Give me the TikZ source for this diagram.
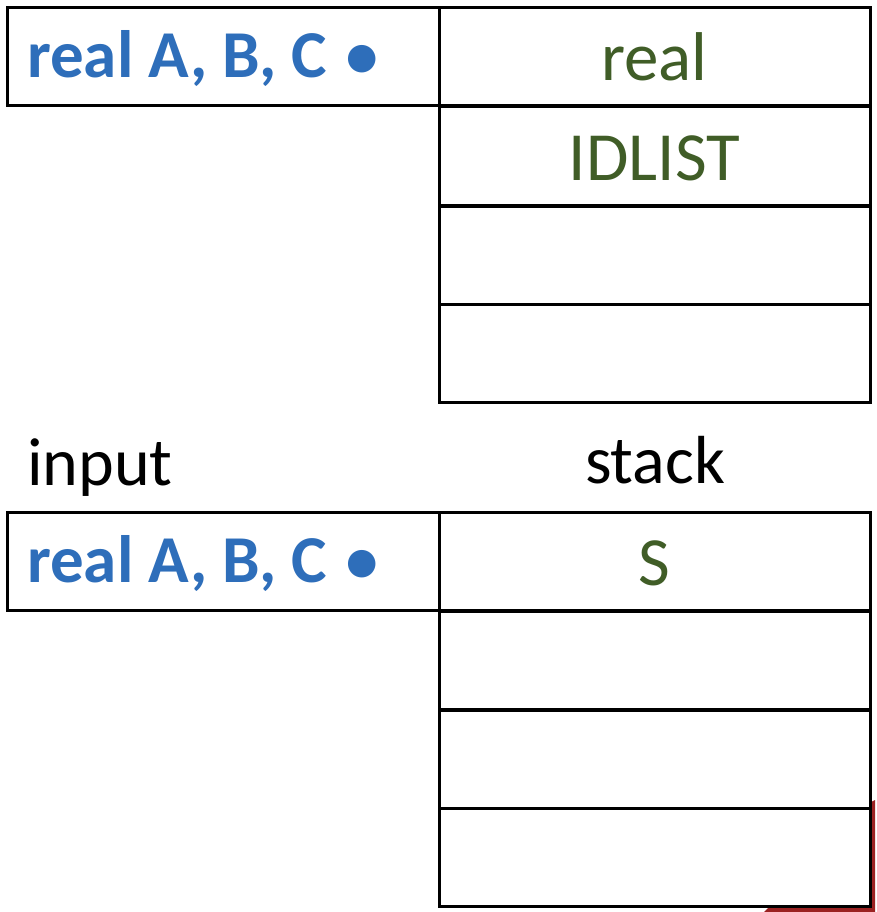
\documentclass[tikz,border=0pt]{standalone}
\usepackage{fontspec}
\setmainfont{Carlito}
\newfontfamily\symfont{DejaVu Sans}
\usepackage{tikz}

\definecolor{inblue}{HTML}{2E6EBA}
\definecolor{stgreen}{HTML}{405D27}
\definecolor{edgered}{HTML}{9B2222}

\newcommand{\inbullet}{\hspace{4pt}\raisebox{9pt}{\symfont\fontsize{36}{36}\selectfont ●}}

\tikzset{
    cell/.style={draw, line width=3pt, minimum height=98pt, inner sep=0pt},
    incell/.style={cell, minimum width=432pt},
    stcell/.style={cell, minimum width=431pt, text=stgreen, text height=52pt, text depth=4pt,
        font=\fontsize{69}{69}\selectfont},
    intext/.style={anchor=base west, inner sep=0pt, text=inblue, font=\fontsize{67}{67}\selectfont\bfseries},
    caption/.style={inner sep=0pt, font=\fontsize{68}{68}\selectfont}
}

\begin{document}
\begin{tikzpicture}[x=1pt, y=1pt]
    \useasboundingbox (0,0) rectangle (876,-912);

    % shadow edge at the lower right
    \fill[edgered] (768,-908) -- (871,-908) -- (871,-802) -- (875,-800) -- (875,-912) -- (764,-912) -- cycle;

    % upper configuration
    \node [incell] (in1) at (223,-57) {};
    \node [intext] (inA) at (27,-78) {real A, B, C \inbullet};

    \node [stcell] (s1) at (654.5,-57) {real};
    \node [stcell] (s2) at (654.5,-156) {IDLIST};
    \node [stcell] (s3) at (654.5,-255) {};
    \node [stcell] (s4) at (654.5,-353.5) {};

    \node [caption, anchor=base west] (input) at (27,-485) {input};
    \node [caption, anchor=base] (stack) at (655,-483) {stack};

    % lower configuration
    \node [incell] (in2) at (223,-561) {};
    \node [intext] (inB) at (27,-582) {real A, B, C \inbullet};

    \node [stcell] (t1) at (654.5,-561) {S};
    \node [stcell] (t2) at (654.5,-660) {};
    \node [stcell] (t3) at (654.5,-759) {};
    \node [stcell] (t4) at (654.5,-857) {};
\end{tikzpicture}
\end{document}
